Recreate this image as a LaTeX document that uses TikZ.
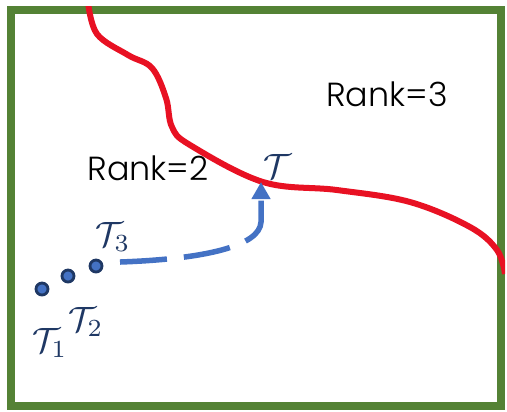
\documentclass[tikz,border=0pt]{standalone}
\usepackage{fontspec}
\setmainfont{Poppins}[UprightFont=* Light]
\usetikzlibrary{arrows.meta}
\definecolor{framegreen}{HTML}{548235}
\definecolor{rankred}{HTML}{E81123}
\definecolor{pathblue}{HTML}{4472C4}
\definecolor{navy}{HTML}{1F3864}
\begin{document}
\begin{tikzpicture}[
    x=0.01cm, y=-0.01cm,
    tensor/.style={circle, draw=navy, fill=pathblue, line width=0.8pt, inner sep=0pt, minimum size=0.12cm},
    tlabel/.style={text=navy, inner sep=0pt, font=\fontsize{10}{12}\selectfont},
    rank/.style={inner sep=0pt, font=\fontsize{9.5}{11}\selectfont}
]
    \useasboundingbox (0,0) rectangle (507,411);
    % Frame
    \draw[framegreen, line width=0.08cm] (11,10) rectangle (501,406);

    % Boundary between the two ranks
    \begin{scope}
    \clip (7,6) rectangle (505,410);
    \draw[rankred, line width=0.06cm] plot[smooth, tension=0.6] coordinates
        {(88,2) (97,34) (128,55) (152,68) (166,98) (172,127) (190,145) (263,182) (337,190) (410,202) (470,227) (497,250) (505,274)};
    \end{scope}

    % Region labels
    \node[rank] (r2) at (148,168) {Rank=2};
    \node[rank] (r3) at (387,94) {Rank=3};

    % Tensors
    \node[tensor] (t1) at (42,289) {};
    \node[tensor] (t2) at (68,276) {};
    \node[tensor] (t3) at (96,266) {};
    \node[tlabel] (l1) at (50,343) {$\mathcal{T}_1$};
    \node[tlabel] (l2) at (86,322) {$\mathcal{T}_2$};
    \node[tlabel] (l3) at (113,237) {$\mathcal{T}_3$};
    \node[tlabel] (lt) at (278,166) {$\mathcal{T}$};

    % Path to the target
    \coordinate (start) at (120,262);
    \coordinate (tgt) at (261,182);
    \draw[pathblue, line width=0.055cm, dash pattern=on 0.47cm off 0.17cm, -{Triangle[width=0.18cm, length=0.17cm]}]
        (start) .. controls (205,259) and (260,246) .. (261,222) -- (tgt);
\end{tikzpicture}
\end{document}
